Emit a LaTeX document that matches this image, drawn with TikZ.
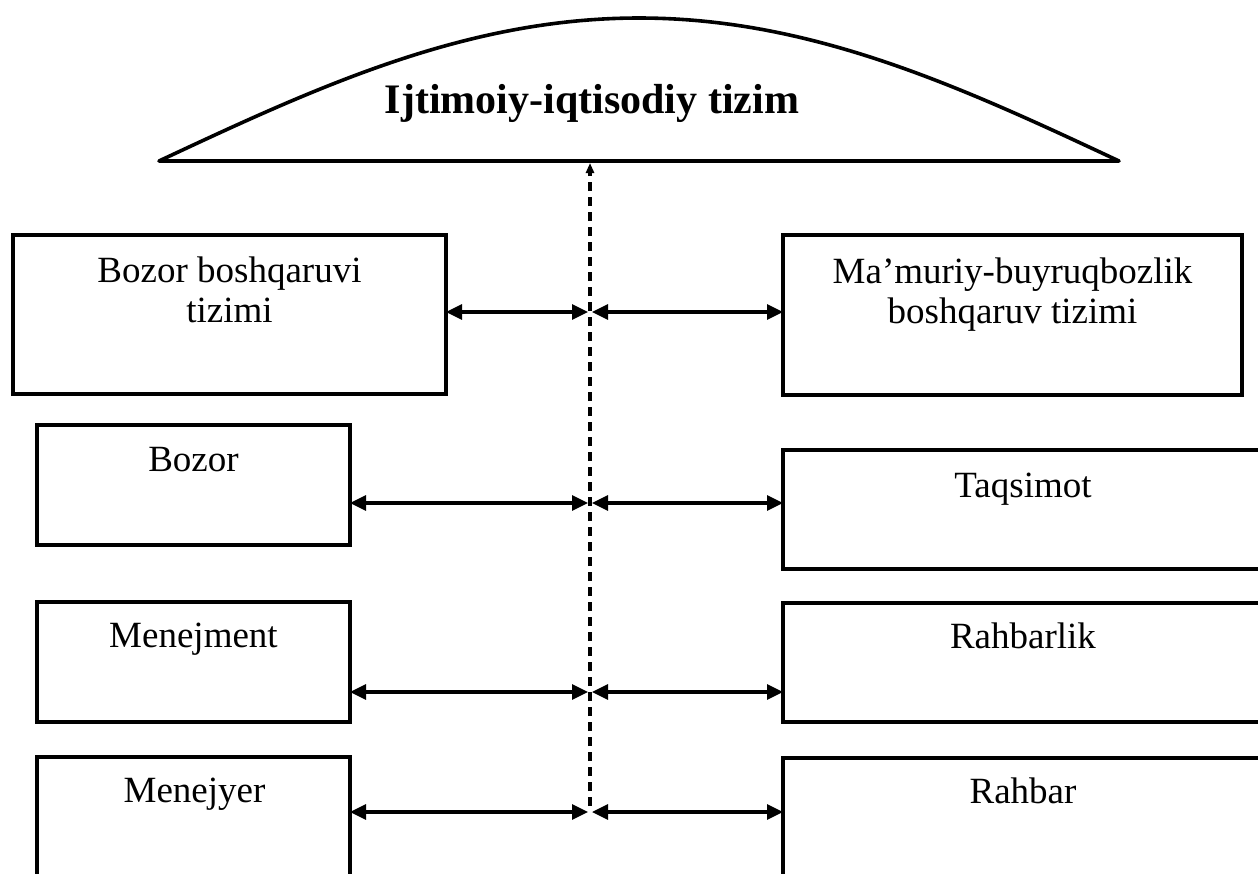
\documentclass[tikz,border=0pt]{standalone}
\usepackage{fontspec}
\setmainfont{Liberation Serif}
\usetikzlibrary{arrows.meta}
\begin{document}
\begin{tikzpicture}[x=1pt,y=-1pt,
  frame/.style={draw, line width=4pt, inner sep=0pt, outer sep=0pt},
  boxtext/.style={font=\fontsize{37}{40}\selectfont, align=center, anchor=base, inner sep=0pt},
  headline/.style={font=\fontsize{42}{46}\selectfont\bfseries, anchor=base, inner sep=0pt},
  link/.style={line width=3.2pt, {Triangle[length=16pt,width=15pt]}-{Triangle[length=16pt,width=15pt]}},
  spine/.style={line width=3.5pt, dash pattern=on 9pt off 6pt}
]
\useasboundingbox (0,0) rectangle (1258,873);
\clip (0,0) rectangle (1258,873);

% arch with the system name
\draw[line width=3.6pt, line join=round]
  plot[domain=0:180, samples=90] ({159+\x*16/3}, {161-143*sin(\x)}) -- cycle;
\node[headline] (sys) at (592,113) {Ijtimoiy-iqtisodiy tizim};

% left column (two-line labels sit on the baseline of their last line)
\node[frame, minimum width=433pt, minimum height=159pt] (L1) at (229.5,314.5) {};
\node[frame, minimum width=313pt, minimum height=120pt] (L2) at (193.5,485) {};
\node[frame, minimum width=313pt, minimum height=120pt] (L3) at (193.5,662) {};
\node[frame, minimum width=313pt, minimum height=146pt] (L4) at (193.5,830) {};
\node[boxtext] (L1t) at (229.5,322) {Bozor boshqaruvi\\tizimi};
\node[boxtext] (L2t) at (193.5,471) {Bozor};
\node[boxtext] (L3t) at (193.5,647) {Menejment};
\node[boxtext] (L4t) at (194.5,802) {Menejyer};

% right column
\node[frame, minimum width=459pt, minimum height=160pt] (R1) at (1012.5,315) {};
\node[frame, minimum width=480pt, minimum height=119pt] (R2) at (1023,509.5) {};
\node[frame, minimum width=480pt, minimum height=119pt] (R3) at (1023,662.5) {};
\node[frame, minimum width=480pt, minimum height=145pt] (R4) at (1023,830.5) {};
\node[boxtext] (R1t) at (1012.5,323) {Ma’muriy-buyruqbozlik\\boshqaruv tizimi};
\node[boxtext] (R2t) at (1023,497) {Taqsimot};
\node[boxtext] (R3t) at (1023,648) {Rahbarlik};
\node[boxtext] (R4t) at (1023,803) {Rahbar};

% dashed axis from the arch down
\coordinate (top) at (590,163);
\coordinate (bot) at (590,806);
\draw[spine, -{Triangle[length=10pt,width=8pt]}] (bot) -- (top);

% crossings on the axis
\coordinate (s1) at (590,312);
\coordinate (s2) at (590,503);
\coordinate (s3) at (590,692);
\coordinate (s4) at (590,812);

\foreach \r in {1,2,3,4}{
  \draw[link] (L\r.east |- s\r) -- ([xshift=-2pt]s\r);
  \draw[link] ([xshift=2pt]s\r) -- (R\r.west |- s\r);
}
\end{tikzpicture}
\end{document}
